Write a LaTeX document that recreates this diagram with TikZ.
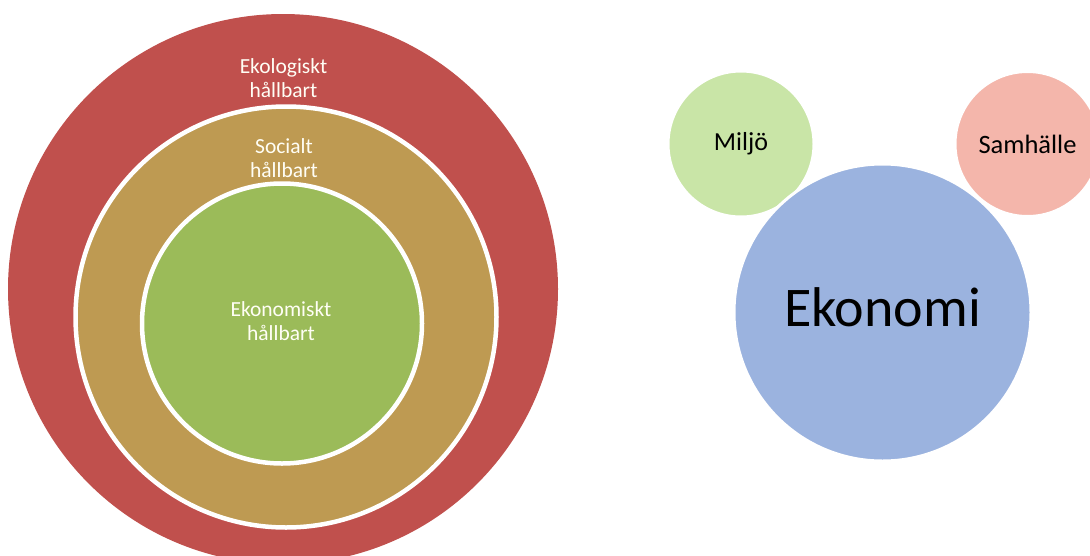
\documentclass[tikz,border=0pt]{standalone}
\usepackage{fontspec}
\setmainfont{Carlito}
\definecolor{ringred}{RGB}{192,80,77}
\definecolor{ringtan}{RGB}{190,154,82}
\definecolor{ringgreen}{RGB}{155,187,89}
\definecolor{bubgreen}{RGB}{201,229,167}
\definecolor{bubpink}{RGB}{244,182,171}
\definecolor{bubblue}{RGB}{155,179,223}
\tikzset{
  disc/.style={circle, inner sep=0pt, draw=white, line width=4.5pt},
  bubble/.style={circle, inner sep=0pt, draw=white, line width=3pt, text=black},
  ringlabel/.style={align=center, text=white!96!yellow, font=\fontsize{21.5}{24}\selectfont},
}
\begin{document}
\begin{tikzpicture}[x=1pt, y=-1pt]
\useasboundingbox (0,0) rectangle (1090,555);
\clip (0,0) rectangle (1090,555);
% nested sustainability rings
\node[disc, fill=ringred, draw=none, minimum size=550pt] (eko) at (283,289) {};
\node[disc, fill=ringtan, minimum size=421pt] (soc) at (286,317) {};
\node[disc, fill=ringgreen, minimum size=280pt] (ekon) at (282,323.5) {};
\node[ringlabel] (ekolbl) at (283.5,78) {Ekologiskt\\hållbart};
\node[ringlabel] (soclbl) at (284,158) {Socialt\\hållbart};
\node[ringlabel] (ekonlbl) at (281,321) {Ekonomiskt\\hållbart};
% bubbles
\node[bubble, fill=bubgreen, minimum size=146pt, font=\fontsize{26}{30}\selectfont] (milj) at (741,144) {Miljö};
\node[bubble, fill=bubpink, minimum size=145pt, font=\fontsize{26.5}{30}\selectfont] (samh) at (1027.5,144) {Samhälle};
\node[bubble, fill=bubblue, minimum size=297pt] (econ) at (882.5,312.5) {};
\node[font=\fontsize{56}{60}\selectfont, text=black] (econlbl) at (882.5,307) {Ekonomi};
\end{tikzpicture}
\end{document}
